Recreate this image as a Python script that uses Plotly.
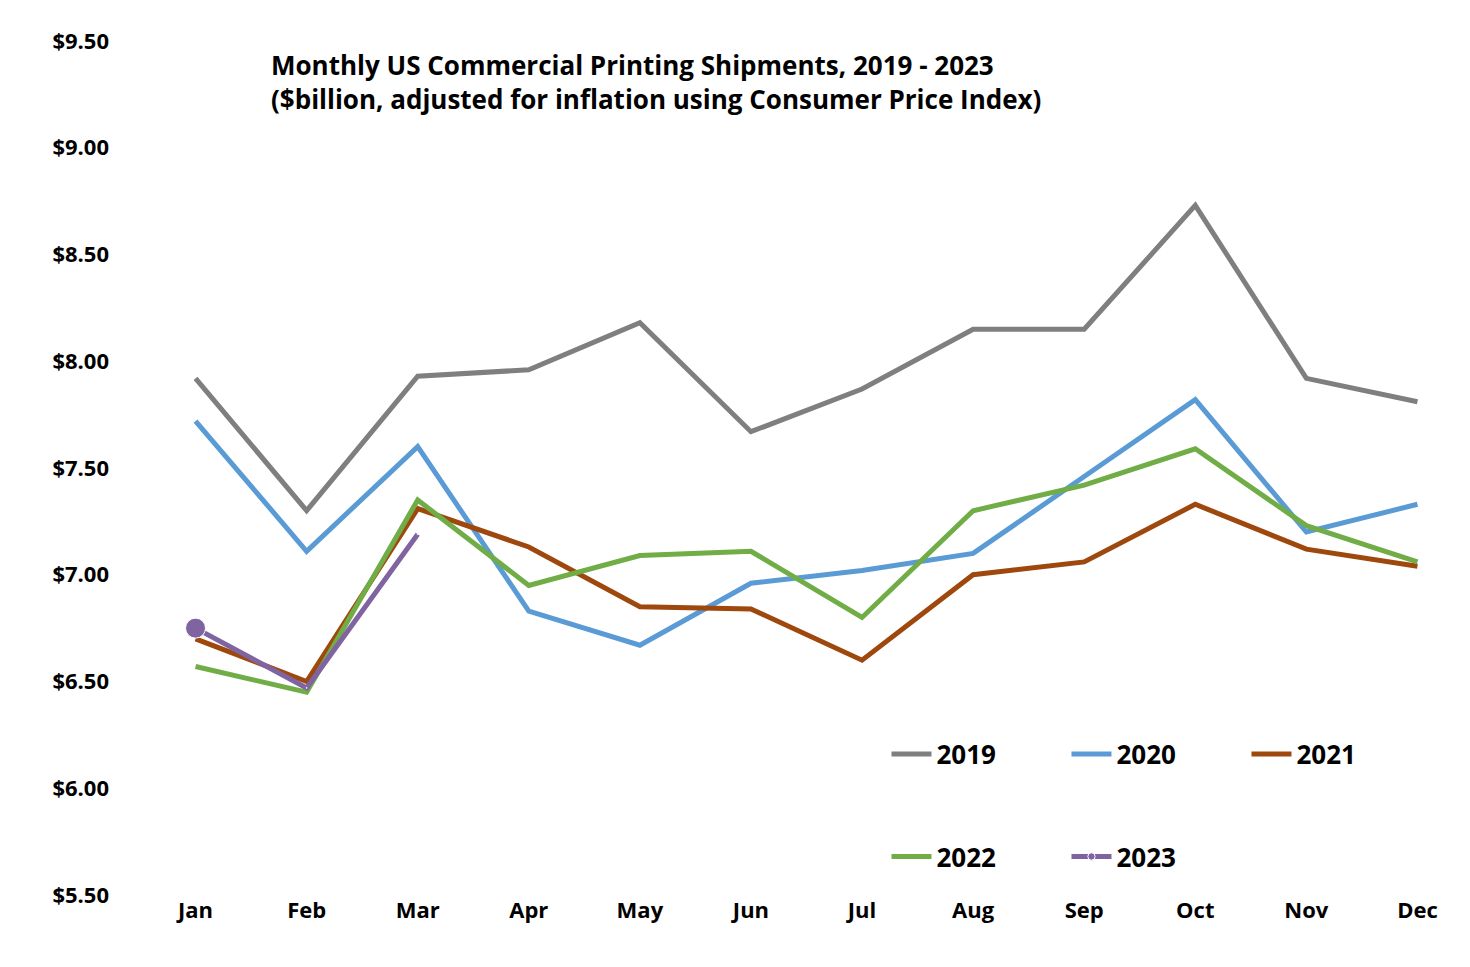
import plotly.graph_objects as go

months = ["Jan", "Feb", "Mar", "Apr", "May", "Jun", "Jul", "Aug", "Sep", "Oct", "Nov", "Dec"]
y2019 = [7.92, 7.30, 7.93, 7.96, 8.18, 7.67, 7.87, 8.15, 8.15, 8.73, 7.92, 7.81]
y2020 = [7.72, 7.11, 7.60, 6.83, 6.67, 6.96, 7.02, 7.10, 7.46, 7.82, 7.20, 7.33]
y2021 = [6.70, 6.50, 7.31, 7.13, 6.85, 6.84, 6.60, 7.00, 7.06, 7.33, 7.12, 7.04]
y2022 = [6.57, 6.45, 7.35, 6.95, 7.09, 7.11, 6.80, 7.30, 7.42, 7.59, 7.23, 7.06]
y2023 = [6.75, 6.47, 7.19]

font = "Open Sans"
fig = go.Figure()

series = [
    ("2019", y2019, "#7f7f7f", "legend"),
    ("2020", y2020, "#5b9bd5", "legend"),
    ("2021", y2021, "#9e480e", "legend"),
    ("2022", y2022, "#70ad47", "legend2"),
]
for name, ys, color, leg in series:
    fig.add_trace(go.Scatter(x=months[:len(ys)], y=ys, name=f"<b>{name}</b>", mode="lines",
                             line=dict(color=color, width=5), legend=leg))

fig.add_trace(go.Scatter(x=months[:3], y=y2023, name="<b>2023</b>", mode="lines+markers",
                         line=dict(color="#8064a2", width=5),
                         marker=dict(size=[20, 1, 1], color="#8064a2", opacity=1),
                         legend="legend2"))

fig.add_annotation(
    text="<b>Monthly US Commercial Printing Shipments, 2019 - 2023<br>($billion, adjusted for inflation using Consumer Price Index)</b>",
    xref="paper", yref="paper", x=0.0965, y=0.995, xanchor="left", yanchor="top",
    showarrow=False, align="left", font=dict(size=26, color="black", family=font))

legfont = dict(size=26, color="black", family=font)
fig.update_layout(
    width=1470, height=967,
    paper_bgcolor="white", plot_bgcolor="white",
    margin=dict(l=132, r=5, t=33, b=80),
    font=dict(family=font, color="black"),
    xaxis=dict(type="category", range=[-0.5, 11.5], showgrid=False, showline=False,
               automargin=False, ticks="",
               tickfont=dict(size=22, color="black", family=font)),
    yaxis=dict(range=[5.5, 9.5], dtick=0.5, tickformat="$.2f", showgrid=False,
               automargin=False, zeroline=False, ticks="", ticklabelstandoff=30,
               tickfont=dict(size=22, color="black", family=font)),
    legend=dict(orientation="h", x=0.56, y=0.165, xanchor="left", yanchor="middle",
                font=legfont, entrywidth=125, entrywidthmode="pixels",
                bgcolor="rgba(0,0,0,0)", itemwidth=40),
    legend2=dict(orientation="h", x=0.56, y=0.045, xanchor="left", yanchor="middle",
                 font=legfont, entrywidth=125, entrywidthmode="pixels",
                 bgcolor="rgba(0,0,0,0)", itemwidth=40),
)
fig.update_xaxes(tickprefix="<b>", ticksuffix="</b>")
fig.update_yaxes(tickprefix="<b>", ticksuffix="</b>")

fig.write_html("out.html")
